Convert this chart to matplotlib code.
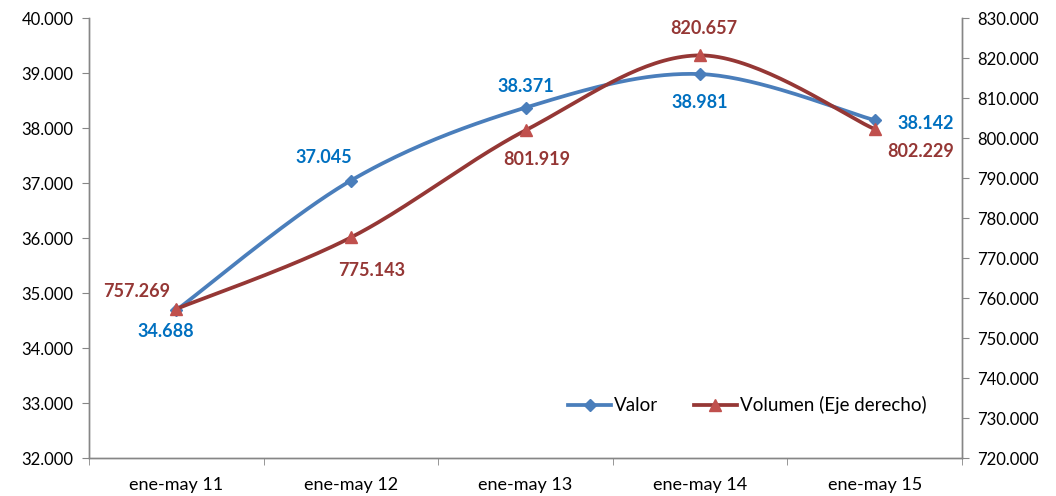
import matplotlib
matplotlib.use("Agg")
import matplotlib.pyplot as plt
from matplotlib.lines import Line2D
import numpy as np

plt.rcParams['font.family'] = ['Lato', 'DejaVu Sans']

categorias = ['ene-may 11', 'ene-may 12', 'ene-may 13', 'ene-may 14', 'ene-may 15']
valor = [34688, 37045, 38371, 38981, 38142]
volumen = [757269, 775143, 801919, 820657, 802229]

# desplazamientos de las etiquetas (px, y hacia arriba)
off_valor = [(-11, -21), (-27, 23), (0, 21), (0, -28), (51, -3)]
off_volumen = [(-40, 17), (21, -33), (11, -29), (4, 27), (46, -22)]

AZUL = '#4A7EBB'
ROJO_LINEA = '#953735'
ROJO_MARCA = '#C0504D'
AZUL_TXT = '#0070C0'
ROJO_TXT = '#953735'
GRIS = '#868686'


def fmt(v):
    return f"{v:,.0f}".replace(",", ".")


def suavizar(x, y, n=40):
    # curva tipo Catmull-Rom (parecida a la "línea suavizada" de Excel)
    x = np.asarray(x, float)
    y = np.asarray(y, float)
    px = np.concatenate([[x[0]], x, [x[-1]]])
    py = np.concatenate([[y[0]], y, [y[-1]]])
    xs, ys = [], []
    t = np.linspace(0, 1, n)
    for i in range(1, len(px) - 2):
        p0 = np.array([px[i], py[i]])
        p3 = np.array([px[i + 1], py[i + 1]])
        c1 = p0 + (np.array([px[i + 1], py[i + 1]]) - np.array([px[i - 1], py[i - 1]])) / 6
        c2 = p3 - (np.array([px[i + 2], py[i + 2]]) - np.array([px[i], py[i]])) / 6
        b = ((1 - t) ** 3)[:, None] * p0 + (3 * (1 - t) ** 2 * t)[:, None] * c1 \
            + (3 * (1 - t) * t ** 2)[:, None] * c2 + (t ** 3)[:, None] * p3
        xs.extend(b[:, 0])
        ys.extend(b[:, 1])
    return np.array(xs), np.array(ys)


fig = plt.figure(figsize=(10.56, 4.96), dpi=100)
ax = fig.add_axes([0.0843, 0.0766, 0.8267, 0.8871])
ax2 = ax.twinx()

x = np.arange(len(categorias))

sx, sy = suavizar(x, valor)
ax.plot(sx, sy, color=AZUL, lw=2.7, solid_capstyle='round', zorder=3)
ax.plot(x, valor, ls='none', marker='D', ms=6, color=AZUL, zorder=4)

vx, vy = suavizar(x, volumen)
ax2.plot(vx, vy, color=ROJO_LINEA, lw=2.7, solid_capstyle='round', zorder=3)
ax2.plot(x, volumen, ls='none', marker='^', ms=8, color=ROJO_MARCA, zorder=4)

for xi, v, (dx, dy) in zip(x, valor, off_valor):
    ax.annotate(fmt(v), (xi, v), xytext=(dx * 0.72, dy * 0.72), textcoords='offset points',
                ha='center', va='center', fontsize=13, fontweight='bold', color=AZUL_TXT)
for xi, v, (dx, dy) in zip(x, volumen, off_volumen):
    ax2.annotate(fmt(v), (xi, v), xytext=(dx * 0.72, dy * 0.72), textcoords='offset points',
                 ha='center', va='center', fontsize=13, fontweight='bold', color=ROJO_TXT)

ax.set_xlim(-0.5, len(categorias) - 0.5)
ax.set_ylim(32000, 40000)
ax2.set_ylim(720000, 830000)
ax.set_yticks(np.arange(32000, 40001, 1000))
ax2.set_yticks(np.arange(720000, 830001, 10000))
ax.set_yticklabels([fmt(v) for v in ax.get_yticks()])
ax2.set_yticklabels([fmt(v) for v in ax2.get_yticks()])

ax.set_xticks(x)
ax.set_xticklabels(categorias)
ax.set_xticks(np.arange(-0.5, len(categorias)), minor=True)
ax.tick_params(axis='x', which='major', length=0, pad=14, labelsize=13)
ax.tick_params(axis='x', which='minor', length=5, color=GRIS, direction='out')
ax.tick_params(axis='y', length=5, color=GRIS, labelsize=12, pad=6)
ax2.tick_params(axis='y', length=5, color=GRIS, labelsize=12, pad=6)

for a in (ax, ax2):
    a.spines['top'].set_visible(False)
    for s in ('left', 'right', 'bottom'):
        a.spines[s].set_color(GRIS)
        a.spines[s].set_linewidth(1.0)

h1 = Line2D([], [], color=AZUL, lw=2.7, marker='D', ms=6)
h2 = Line2D([], [], color=ROJO_LINEA, lw=2.7, marker='^', ms=8, markerfacecolor=ROJO_MARCA,
            markeredgecolor=ROJO_MARCA)
ax2.legend([h1, h2], ['Valor', 'Volumen (Eje derecho)'], loc='center',
           bbox_to_anchor=(0.754, 0.12), ncol=2, frameon=False, fontsize=13.5,
           handlelength=2.3, handletextpad=0.15, columnspacing=1.9)

fig.savefig('out.png', dpi=100)
